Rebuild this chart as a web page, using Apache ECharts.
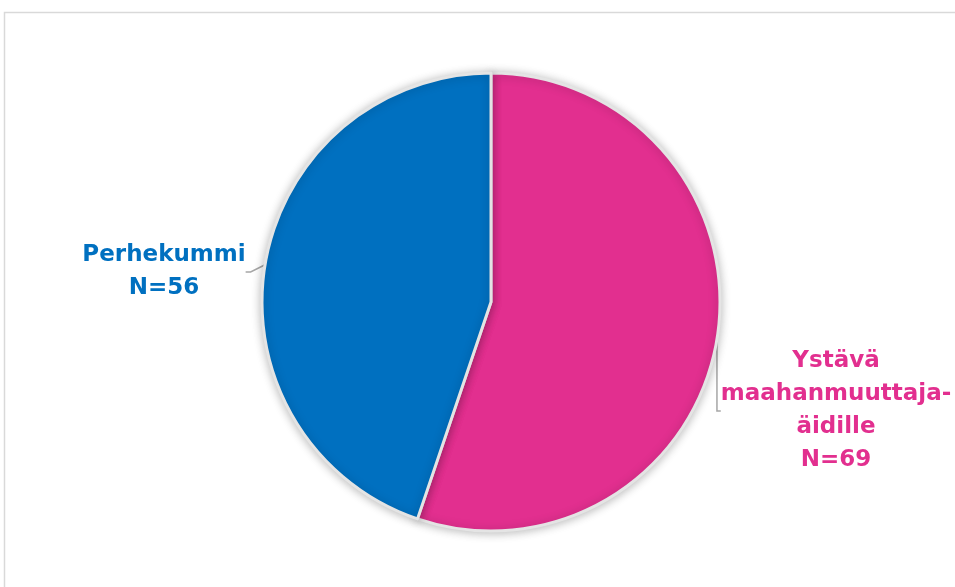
<!DOCTYPE html>
<html>
<head>
<meta charset="utf-8">
<script src="https://cdn.jsdelivr.net/npm/echarts@6/dist/echarts.min.js"></script>
<style>
html,body{margin:0;padding:0;background:#fff;}
#chart{width:955px;height:587px;}
</style>
</head>
<body>
<div id="chart"></div>
<script>
const categories = ["Ystävä maahanmuuttaja-äidille", "Perhekummi"];
const labelTexts = ["Ystävä\nmaahanmuuttaja-\näidille\nN=69", "Perhekummi\nN=56"];
const values = [69, 56];
const colors = ["#E22F8F", "#0070C0"];

const chart = echarts.init(document.getElementById('chart'), null, {renderer: 'canvas'});
const labelPos = [
  {x: 836, y: 411, align: 'center', verticalAlign: 'middle'},
  {x: 164, y: 272, align: 'center', verticalAlign: 'middle'}
];
chart.setOption({
  animation: false,
  backgroundColor: '#ffffff',
  graphic: [{
    type: 'rect',
    shape: {x: 4.5, y: 12.5, width: 1200, height: 1200},
    style: {fill: 'none', stroke: '#d9d9d9', lineWidth: 1.5},
    z: 0
  }],
  series: [{
    type: 'pie',
    center: [491, 302],
    radius: [0, 229],
    startAngle: 90,
    clockwise: true,
    data: categories.map((c, i) => ({
      name: c,
      value: values[i],
      itemStyle: {color: colors[i]},
      label: {color: colors[i], formatter: labelTexts[i]}
    })),
    itemStyle: {
      borderColor: '#e4e4e4',
      borderWidth: 3,
      shadowBlur: 10,
      shadowColor: 'rgba(0,0,0,0.25)',
      shadowOffsetY: 1
    },
    label: {
      show: true,
      position: 'outside',
      alignTo: 'none',
      overflow: 'none',
      edgeDistance: 0,
      fontFamily: 'DejaVu Sans',
      fontWeight: 'bold',
      fontSize: 23,
      lineHeight: 33,
      align: 'center'
    },
    labelLine: {
      show: true,
      length: 5,
      length2: 5,
      lineStyle: {color: '#a6a6a6', width: 1.5}
    },
    labelLayout: function (params) {
      return labelPos[params.dataIndex];
    }
  }]
});
</script>
</body>
</html>
